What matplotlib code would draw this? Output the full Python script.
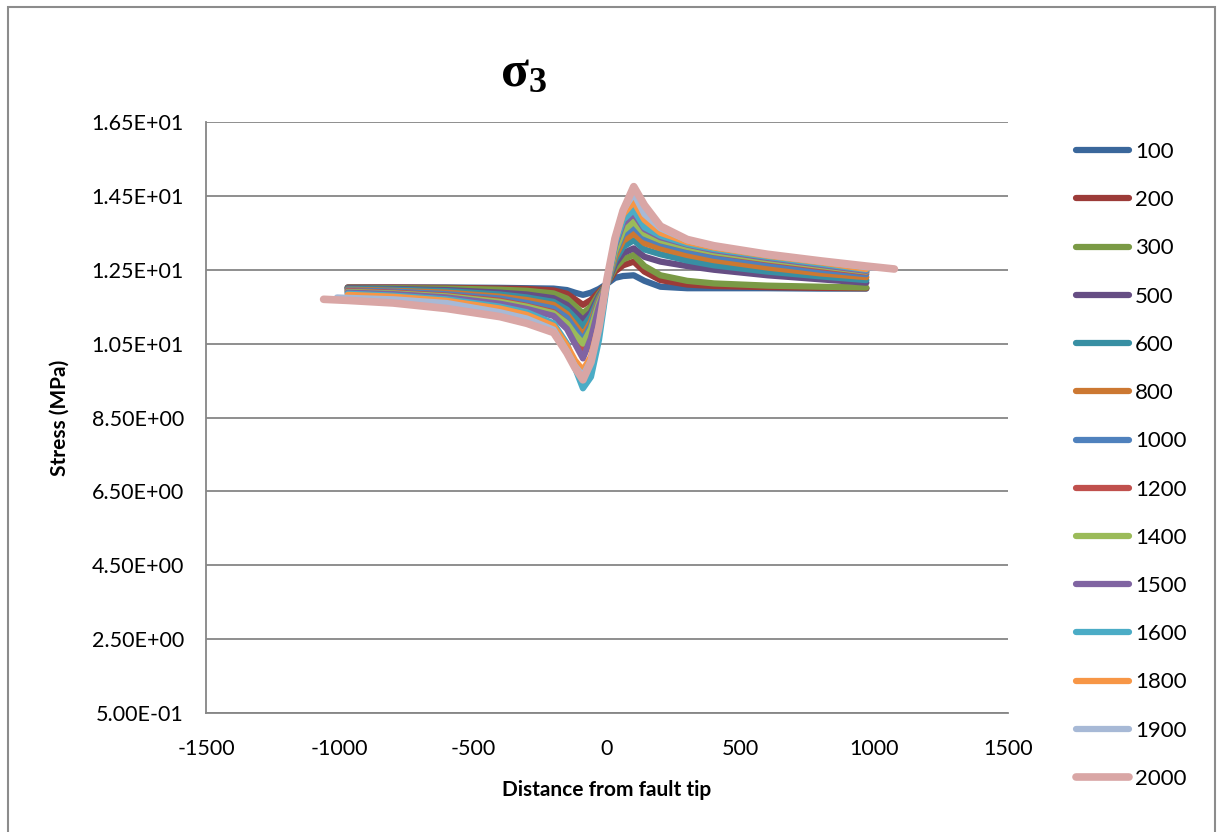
"""
sigma3_profiles.py: sigma_3 stress along the fault-tip profile for each case.
"""

import matplotlib
matplotlib.use("Agg")
import matplotlib.pyplot as plt
from matplotlib.patches import Rectangle
import numpy as np

plt.rcParams["font.family"] = ["Lato", "DejaVu Sans"]
plt.rcParams["axes.unicode_minus"] = False
plt.rcParams["mathtext.fontset"] = "custom"
plt.rcParams["mathtext.rm"] = "Liberation Serif:bold"

# distance from fault tip (m), shared by most series
X_MAIN = [-970, -800, -600, -400, -300, -200, -150, -120, -90, -60, -30, 0,
          30, 60, 100, 140, 200, 300, 400, 600, 800, 970]
X_1900 = [-1010] + X_MAIN + [1020]
X_2000 = [-1060] + X_MAIN + [1075]

s100 = [12.02, 12.02, 12.02, 12.01, 12.00, 11.99, 11.95, 11.88, 11.82, 11.88, 11.98, 12.12,
        12.28, 12.33, 12.35, 12.20, 12.04, 12.00, 12.00, 12.00, 11.99, 11.99]
s200 = [12.02, 12.02, 12.01, 11.99, 11.98, 11.94, 11.85, 11.70, 11.55, 11.68, 11.90, 12.12,
        12.45, 12.62, 12.72, 12.45, 12.22, 12.10, 12.06, 12.03, 12.01, 12.00]
s300 = [12.01, 12.00, 11.99, 11.96, 11.93, 11.86, 11.72, 11.52, 11.32, 11.50, 11.85, 12.12,
        12.55, 12.78, 12.90, 12.60, 12.35, 12.20, 12.13, 12.07, 12.04, 12.02]
s500 = [12.00, 11.98, 11.95, 11.88, 11.83, 11.73, 11.55, 11.35, 11.14, 11.35, 11.80, 12.12,
        12.65, 12.95, 13.08, 12.85, 12.72, 12.60, 12.50, 12.35, 12.24, 12.15]
s600 = [11.98, 11.96, 11.92, 11.83, 11.75, 11.63, 11.42, 11.20, 10.96, 11.25, 11.75, 12.12,
        12.75, 13.12, 13.30, 13.05, 12.92, 12.75, 12.62, 12.45, 12.32, 12.22]
s800 = [11.96, 11.93, 11.88, 11.77, 11.68, 11.55, 11.30, 11.02, 10.73, 11.10, 11.70, 12.12,
        12.85, 13.28, 13.48, 13.22, 13.08, 12.90, 12.76, 12.56, 12.40, 12.30]
s1000 = [11.94, 11.91, 11.84, 11.72, 11.60, 11.45, 11.20, 10.90, 10.60, 11.00, 11.65, 12.12,
         12.95, 13.45, 13.66, 13.38, 13.22, 13.03, 12.88, 12.68, 12.50, 12.38]
s1200 = [11.92, 11.88, 11.80, 11.66, 11.52, 11.35, 11.05, 10.70, 10.37, 10.85, 11.60, 12.12,
         13.05, 13.62, 13.89, 13.50, 13.30, 13.12, 12.97, 12.76, 12.57, 12.43]
s1400 = [11.90, 11.86, 11.78, 11.63, 11.50, 11.32, 11.05, 10.75, 10.50, 10.90, 11.60, 12.12,
         13.00, 13.55, 13.80, 13.48, 13.30, 13.12, 12.98, 12.78, 12.60, 12.45]
s1500 = [11.88, 11.84, 11.75, 11.58, 11.44, 11.25, 10.90, 10.50, 10.10, 10.65, 11.50, 12.12,
         13.15, 13.75, 14.02, 13.60, 13.38, 13.18, 13.03, 12.82, 12.63, 12.47]
s1600 = [11.85, 11.80, 11.70, 11.50, 11.35, 11.05, 10.50, 9.85, 9.29, 9.60, 10.60, 12.10,
         13.20, 13.85, 14.12, 13.65, 13.42, 13.20, 13.06, 12.85, 12.66, 12.50]
s1800 = [11.82, 11.77, 11.66, 11.45, 11.28, 10.98, 10.45, 10.05, 9.78, 10.15, 11.00, 12.18,
         13.30, 14.00, 14.34, 13.85, 13.50, 13.25, 13.10, 12.88, 12.70, 12.52]
s1900 = [11.75, 11.74, 11.70, 11.60, 11.35, 11.18, 10.88, 10.30, 9.90, 9.63, 10.05, 10.95, 12.20,
         13.35, 14.10, 14.56, 14.00, 13.62, 13.30, 13.13, 12.90, 12.72, 12.57, 12.55]
s2000 = [11.70, 11.67, 11.60, 11.45, 11.23, 11.05, 10.80, 10.25, 9.85, 9.52, 10.00, 10.95, 12.25,
         13.35, 14.10, 14.75, 14.25, 13.68, 13.32, 13.15, 12.92, 12.74, 12.60, 12.52]

LABELS = ["100", "200", "300", "500", "600", "800", "1000", "1200",
          "1400", "1500", "1600", "1800", "1900", "2000"]
COLORS = ["#3A679B", "#9C3B38", "#7A9A45", "#664E84", "#388FA3", "#CC7832",
          "#4F81BD", "#C0504D", "#9BBB59", "#8064A2", "#4BACC6", "#F79646",
          "#A7B9D6", "#D9A6A5"]


def main():
    series = [(X_MAIN, s100), (X_MAIN, s200), (X_MAIN, s300), (X_MAIN, s500),
              (X_MAIN, s600), (X_MAIN, s800), (X_MAIN, s1000), (X_MAIN, s1200),
              (X_MAIN, s1400), (X_MAIN, s1500), (X_MAIN, s1600), (X_MAIN, s1800),
              (X_1900, s1900), (X_2000, s2000)]

    fig = plt.figure(figsize=(12.19, 8.32), dpi=100)
    ax = fig.add_axes([206 / 1219, 1 - 713 / 832, 802 / 1219, 591 / 832])

    for (x, y), lab, c in zip(series, LABELS, COLORS):
        lw = 5.5 if lab == "2000" else 4.5
        ax.plot(x, y, color=c, lw=lw, label=lab,
                solid_capstyle="round", solid_joinstyle="round", zorder=3)

    ax.set_xlim(-1500, 1500)
    ax.set_ylim(0.5, 16.5)
    ax.set_xticks(np.arange(-1500, 1501, 500))
    yt = np.arange(0.5, 16.6, 2.0)
    ax.set_yticks(yt)
    ax.set_yticklabels([f"{v:.2E}" for v in yt])
    ax.tick_params(length=0, labelsize=15.5, pad=16)
    ax.tick_params(axis="x", pad=19)
    ax.grid(axis="y", color="#868686", lw=1.3, zorder=0)

    for side in ("top", "right"):
        ax.spines[side].set_visible(False)
    for side in ("left", "bottom"):
        ax.spines[side].set_color("#868686")
        ax.spines[side].set_linewidth(1.3)

    ax.set_ylabel("Stress (MPa)", fontsize=15, fontweight="bold")
    ax.yaxis.set_label_coords(-0.17, 0.5)
    ax.set_xlabel("Distance from fault tip", fontsize=15, fontweight="bold")
    ax.xaxis.set_label_coords(0.5, -0.114)

    fig.text(524 / 1219, 1 - 72 / 832, r"$\mathrm{\sigma_3}$", fontsize=37,
             ha="center", va="center")

    ax.legend(loc="upper left", bbox_to_anchor=(1076 / 1219, 1 - 142 / 832),
              bbox_transform=fig.transFigure, frameon=False, fontsize=16,
              handlelength=2.4, handletextpad=0.25, labelspacing=1.27,
              borderpad=0, borderaxespad=0)

    fig.patches.append(Rectangle((8 / 1219, -0.01), 1207 / 1219, 1.01 - 7 / 832,
                                 transform=fig.transFigure, fill=False,
                                 edgecolor="#8c8c8c", lw=1.5))

    fig.savefig("out.png", dpi=100)
    plt.close(fig)


if __name__ == "__main__":
    main()
